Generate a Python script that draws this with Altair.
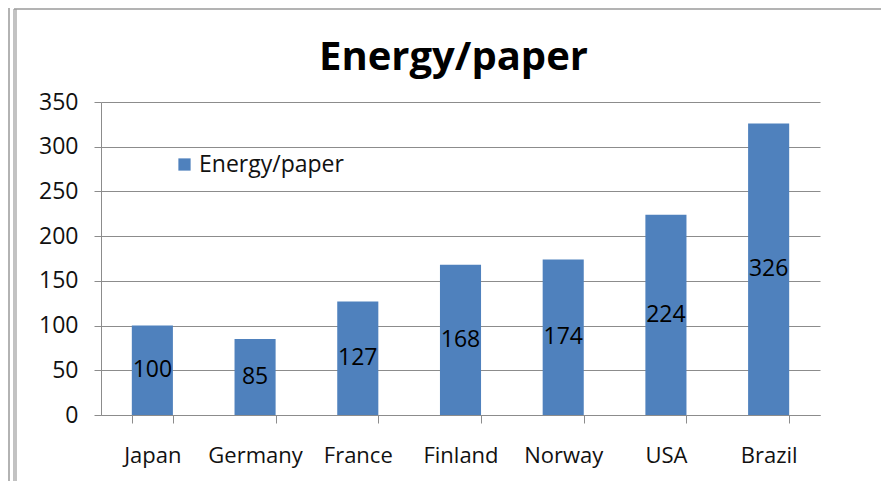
import altair as alt
import pandas as pd

countries = ["Japan", "Germany", "France", "Finland", "Norway", "USA", "Brazil"]
values = [100, 85, 127, 168, 174, 224, 326]
series_name = "Energy/paper"

df = pd.DataFrame({"country": countries, "value": values, "series": [series_name] * len(countries)})
df["half"] = df["value"] / 2

FONT = "Open Sans"
GRID = "#8c8c8c"

x = alt.X("country:N", sort=countries, title=None,
          scale=alt.Scale(paddingInner=0.6, paddingOuter=0.3),
          axis=alt.Axis(labelAngle=0, labelFontSize=22, labelFont=FONT, labelColor="#111",
                        domainColor=GRID, tickColor=GRID, tickSize=8, tickBand="extent",
                        labelPadding=22, grid=False))

bars = alt.Chart(df).mark_bar(color="#4F81BD").encode(
    x=x,
    y=alt.Y("value:Q", title=None,
            scale=alt.Scale(domain=[0, 350], nice=False),
            axis=alt.Axis(values=[0, 50, 100, 150, 200, 250, 300, 350],
                          labelFontSize=23, labelFont=FONT, labelColor="#111",
                          domainColor=GRID, tickColor=GRID, tickSize=7, labelPadding=16,
                          gridColor=GRID, gridWidth=1.2)),
    color=alt.Color("series:N", title=None,
                    scale=alt.Scale(range=["#4F81BD"]),
                    legend=alt.Legend(orient="none", legendX=72, legendY=51,
                                      symbolType="square", symbolSize=150,
                                      symbolStrokeWidth=0, symbolOpacity=1,
                                      labelFontSize=23, labelFont=FONT, labelColor="#111",
                                      labelOffset=3)),
)

labels = alt.Chart(df).mark_text(fontSize=23, font=FONT, color="#000", baseline="middle").encode(
    x=alt.X("country:N", sort=countries),
    y=alt.Y("half:Q"),
    text=alt.Text("value:Q"),
)

frame_data = alt.Data(values=[{"k": 1}])
frame_v1 = alt.Chart(frame_data).mark_rule(color="#9a9a9a", strokeWidth=1.5).encode(
    x=alt.value(-92), y=alt.value(-94), y2=alt.value(380))
frame_v2 = alt.Chart(frame_data).mark_rule(color="#9a9a9a", strokeWidth=1.2).encode(
    x=alt.value(-87), y=alt.value(-93), y2=alt.value(380))
frame_v3 = alt.Chart(frame_data).mark_rule(color="#9a9a9a", strokeWidth=1.2).encode(
    x=alt.value(-85), y=alt.value(-93), y2=alt.value(380))
frame_h = alt.Chart(frame_data).mark_rule(color="#9a9a9a", strokeWidth=1.5).encode(
    x=alt.value(-87), x2=alt.value(800), y=alt.value(-93))

chart = alt.layer(bars, labels, frame_v1, frame_v2, frame_v3, frame_h).properties(
    width=719, height=313,
    autosize=alt.AutoSizeParams(type="none"),
    padding={"left": 93, "top": 94, "right": 61, "bottom": 66},
    title=alt.Title("Energy/paper", fontSize=40, font=FONT, fontWeight="bold",
                    color="#000", anchor="middle", frame="group", offset=24, dx=-7, dy=95),
).configure(background="white").configure_view(stroke=None)

chart.save("out.html", embed_options={"renderer": "svg", "actions": False})
